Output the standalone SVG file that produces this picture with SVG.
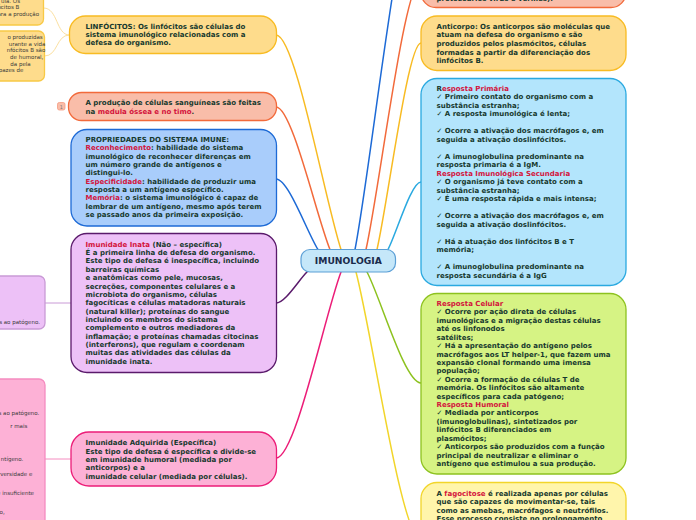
<svg xmlns="http://www.w3.org/2000/svg" width="696" height="520" viewBox="0 0 696 520">
<style>
.t{font-family:"DejaVu Sans",Verdana,sans-serif;font-weight:bold;font-size:7px;fill:#17392e}
.r{fill:#d3143c}
.s{font-family:"DejaVu Sans",Verdana,sans-serif;font-size:5.5px;fill:#3a3a3a;text-anchor:end}
.c{fill:none;stroke-width:1.5;stroke-linecap:round}
.nb{stroke-width:1.3}
</style>
<rect width="696" height="520" fill="#ffffff"/>
<g id="connectors">
<path class="c" stroke="#f8bb22" d="M276,35 C295.5,35 324.8,200.2 341,249.5"/>
<path class="c" stroke="#f26a3b" d="M276,107 C292.2,107 316.5,216.7 330,249.5"/>
<path class="c" stroke="#1d6ad6" d="M276,179 C288.6,179 307.5,233.3 318,249.5"/>
<path class="c" stroke="#5a1a6b" d="M276,303 C285.3,303 299.3,279.1 307,272"/>
<path class="c" stroke="#ec1d78" d="M276,458 C295.5,458 324.8,314.8 341,272"/>
<path class="c" stroke="#1d6ad6" d="M421,-120 C401.2,-120 371.5,164.5 355,249.5"/>
<path class="c" stroke="#f26a3b" d="M421,-20 C404.5,-20 379.8,187.5 366,249.5"/>
<path class="c" stroke="#f8bb22" d="M421,43 C407.8,43 388,202 377,249.5"/>
<path class="c" stroke="#2aa9e0" d="M421,182 C411.1,182 396.3,234 388,249.5"/>
<path class="c" stroke="#8dc21f" d="M421,383 C404.8,383 380.5,297.5 367,272"/>
<path class="c" stroke="#f2d52a" d="M421,540 C401.5,540 372.3,333.6 356,272"/>
<path fill="none" stroke="#fbe0a0" stroke-width="1" d="M43.5,8 C58,8 56,35 69.5,35"/>
<path fill="none" stroke="#fbe0a0" stroke-width="1" d="M44.5,56 C58,56 56,35 69.5,35"/>
<path fill="none" stroke="#c99ad6" stroke-width="1" d="M45,303 H71"/>
<path fill="none" stroke="#f58cc0" stroke-width="1" d="M45,459 H71"/>
</g>
<g id="center">
<rect x="301" y="249.5" width="94.5" height="22.5" rx="9" fill="#c5e7f9" stroke="#5b9fd6" stroke-width="1.2"/>
<text x="348.3" y="264.3" text-anchor="middle" style="font-family:'DejaVu Sans',Verdana,sans-serif;font-weight:bold;font-size:9.2px;fill:#1a2a4a">IMUNOLOGIA</text>
</g>
<g id="p-yellow1">
<rect class="nb" x="-20" y="-30" width="63.5" height="55" rx="6" fill="#fedc8c" stroke="#f8c945"/>
<text class="s" x="20" y="2.5">ula. Os</text>
<text class="s" x="19.3" y="9">linfócitos B</text>
<text class="s" x="39" y="16">ara a produção</text>
</g>
<g id="p-yellow2">
<rect class="nb" x="-20" y="31" width="64.5" height="50" rx="6" fill="#fedc8c" stroke="#f8c945"/>
<text class="s" x="42.7" y="39">o produzidas</text>
<text class="s" x="45.3" y="45.5">urante a vida</text>
<text class="s" x="45.3" y="52">nfócitos B são</text>
<text class="s" x="43.3" y="59">de humoral,</text>
<text class="s" x="30.7" y="65.5">da pela</text>
<text class="s" x="23.3" y="72">pazes de</text>
</g>
<g id="p-purple">
<rect class="nb" x="-20" y="276" width="65" height="53" rx="6" fill="#edc1f7" stroke="#c99ad6"/>
<text class="s" x="40" y="324.3">s ao patógeno.</text>
</g>
<g id="p-pink">
<rect class="nb" x="-20" y="379" width="65" height="160" rx="6" fill="#fdb1d6" stroke="#f58cc0"/>
<text class="s" x="39.3" y="415.3">s ao patógeno.</text>
<text class="s" x="27.3" y="428">r mais</text>
<text class="s" x="23.3" y="461.3">ntígeno.</text>
<text class="s" x="32.3" y="475.7">rversidade e</text>
<text class="s" x="34" y="494.7">e insuficiente</text>
<text class="s" x="4.7" y="514.3">o,</text>
</g>
<g id="n-linfocitos">
<rect class="nb" x="69.5" y="16" width="207" height="37.5" rx="16" fill="#fedc8c" stroke="#f8bb22"/>
<text class="t" x="85.5" y="28.7">LINFÓCITOS: Os linfócitos são células do<tspan x="85.5" dy="8.35">sistema imunológico relacionadas com a</tspan><tspan x="85.5" dy="8.35">defesa do organismo.</tspan></text>
</g>
<g id="n-producao">
<rect x="57.5" y="102.5" width="7.5" height="7.5" rx="1.8" fill="#f9bda9" stroke="#f59a80" stroke-width="0.8"/>
<text x="61.25" y="108.5" text-anchor="middle" style="font-family:'DejaVu Sans',sans-serif;font-size:5px;fill:#777">1</text>
<rect class="nb" x="68.5" y="92.5" width="208" height="28" rx="13" fill="#f9bda9" stroke="#f26a3b"/>
<text class="t" x="85.5" y="105.4">A produção de células sanguíneas são feitas<tspan x="85.5" dy="8.35">na </tspan><tspan class="r">medula óssea e no timo</tspan>.</text>
</g>
<g id="n-propriedades">
<rect class="nb" x="71" y="129.5" width="205.5" height="96.5" rx="16" fill="#a9cdfb" stroke="#1d6ad6"/>
<text class="t" x="85.5" y="142">PROPRIEDADES DO SISTEMA IMUNE:<tspan x="85.5" dy="8.33" class="r">Reconhecimento</tspan>: habilidade do sistema<tspan x="85.5" dy="8.33">imunológico de reconhecer diferenças em</tspan><tspan x="85.5" dy="8.33">um número grande de antígenos e</tspan><tspan x="85.5" dy="8.33">distingui-lo.</tspan><tspan x="85.5" dy="8.33" class="r">Especificidade</tspan>: habilidade de produzir uma<tspan x="85.5" dy="8.33">resposta a um antígeno específico.</tspan><tspan x="85.5" dy="8.33" class="r">Memória</tspan>: o sistema imunológico é capaz de<tspan x="85.5" dy="8.33">lembrar de um antígeno, mesmo após terem</tspan><tspan x="85.5" dy="8.33">se passado anos da primeira exposição.</tspan></text>
</g>
<g id="n-inata">
<rect class="nb" x="71" y="233.5" width="205.5" height="139" rx="16" fill="#edc1f7" stroke="#5a1a6b"/>
<text class="t" x="85.5" y="246.7"><tspan class="r">Imunidade Inata</tspan> (Não – específica)<tspan x="85.5" dy="8.36">É a primeira linha de defesa do organismo.</tspan><tspan x="85.5" dy="8.36">Este tipo de defesa é inespecífica, incluindo</tspan><tspan x="85.5" dy="8.36">barreiras químicas</tspan><tspan x="85.5" dy="8.36">e anatômicas como pele, mucosas,</tspan><tspan x="85.5" dy="8.36">secreções, componentes celulares e a</tspan><tspan x="85.5" dy="8.36">microbiota do organismo, células</tspan><tspan x="85.5" dy="8.36">fagocíticas e células matadoras naturais</tspan><tspan x="85.5" dy="8.36">(natural killer); proteínas do sangue</tspan><tspan x="85.5" dy="8.36">incluindo os membros do sistema</tspan><tspan x="85.5" dy="8.36">complemento e outros mediadores da</tspan><tspan x="85.5" dy="8.36">inflamação; e proteínas chamadas citocinas</tspan><tspan x="85.5" dy="8.36">(interferons), que regulam e coordenam</tspan><tspan x="85.5" dy="8.36">muitas das atividades das células da</tspan><tspan x="85.5" dy="8.36">imunidade inata.</tspan></text>
</g>
<g id="n-adquirida">
<rect class="nb" x="71" y="432" width="205.5" height="54" rx="18" fill="#fdb1d6" stroke="#ec1d78"/>
<text class="t" x="85.5" y="445.4">Imunidade Adquirida (Específica)<tspan x="85.5" dy="8.33">Este tipo de defesa é específica e divide-se</tspan><tspan x="85.5" dy="8.33">em imunidade humoral (mediada por</tspan><tspan x="85.5" dy="8.33">anticorpos) e a</tspan><tspan x="85.5" dy="8.33">imunidade celular (mediada por células).</tspan></text>
</g>
<g id="n-top">
<rect class="nb" x="421" y="-50" width="205" height="57.5" rx="15" fill="#f9bda9" stroke="#f26a3b"/>
<text class="t" x="436.5" y="1">protozoários vírus e vermes).</text>
</g>
<g id="n-anticorpo">
<rect class="nb" x="421" y="16" width="205" height="54.5" rx="16" fill="#fedc8c" stroke="#f8bb22"/>
<text class="t" x="436.5" y="28.7">Anticorpo: Os anticorpos são moléculas que<tspan x="436.5" dy="8.6">atuam na defesa do organismo e são</tspan><tspan x="436.5" dy="8.6">produzidos pelos plasmócitos, células</tspan><tspan x="436.5" dy="8.6">formadas a partir da diferenciação dos</tspan><tspan x="436.5" dy="8.6">linfócitos B.</tspan></text>
</g>
<g id="n-primaria">
<rect class="nb" x="421" y="78.5" width="205" height="207" rx="16" fill="#b3e5fc" stroke="#2aa9e0"/>
<text class="t" x="436.5" y="91">R<tspan class="r">esposta Primária</tspan><tspan x="436.5" dy="8.49">✓ Primeiro contato do organismo com a</tspan><tspan x="436.5" dy="8.49">substância estranha;</tspan><tspan x="436.5" dy="8.49">✓ A resposta imunológica é lenta;</tspan><tspan x="436.5" dy="16.98">✓ Ocorre a ativação dos macrófagos e, em</tspan><tspan x="436.5" dy="8.49">seguida a ativação doslinfócitos.</tspan><tspan x="436.5" dy="16.98">✓ A imunoglobulina predominante na</tspan><tspan x="436.5" dy="8.49">resposta primaria é a IgM.</tspan><tspan x="436.5" dy="8.49" class="r">Resposta Imunológica Secundaria</tspan><tspan x="436.5" dy="8.49">✓ O organismo já teve contato com a</tspan><tspan x="436.5" dy="8.49">substância estranha;</tspan><tspan x="436.5" dy="8.49">✓ É uma resposta rápida e mais intensa;</tspan><tspan x="436.5" dy="16.98">✓ Ocorre a ativação dos macrófagos e, em</tspan><tspan x="436.5" dy="8.49">seguida a ativação doslinfócitos.</tspan><tspan x="436.5" dy="16.98">✓ Há a atuação dos linfócitos B e T</tspan><tspan x="436.5" dy="8.49">memória;</tspan><tspan x="436.5" dy="16.98">✓ A imunoglobulina predominante na</tspan><tspan x="436.5" dy="8.49">resposta secundária é a IgG</tspan></text>
</g>
<g id="n-celular">
<rect class="nb" x="421" y="293.5" width="205" height="180.5" rx="16" fill="#d6f384" stroke="#8dc21f"/>
<text class="t" x="436.5" y="306"><tspan class="r">Resposta Celular</tspan><tspan x="436.5" dy="8.42">✓ Ocorre por ação direta de células</tspan><tspan x="436.5" dy="8.42">imunológicas e a migração destas células</tspan><tspan x="436.5" dy="8.42">até os linfonodos</tspan><tspan x="436.5" dy="8.42">satélites;</tspan><tspan x="436.5" dy="8.42">✓ Há a apresentação do antígeno pelos</tspan><tspan x="436.5" dy="8.42">macrófagos aos LT helper-1, que fazem uma</tspan><tspan x="436.5" dy="8.42">expansão clonal formando uma imensa</tspan><tspan x="436.5" dy="8.42">população;</tspan><tspan x="436.5" dy="8.42">✓ Ocorre a formação de células T de</tspan><tspan x="436.5" dy="8.42">memória. Os linfócitos são altamente</tspan><tspan x="436.5" dy="8.42">específicos para cada patógeno;</tspan><tspan x="436.5" dy="8.42" class="r">Resposta Humoral</tspan><tspan x="436.5" dy="8.42">✓ Mediada por anticorpos</tspan><tspan x="436.5" dy="8.42">(imunoglobulinas), sintetizados por</tspan><tspan x="436.5" dy="8.42">linfócitos B diferenciados em</tspan><tspan x="436.5" dy="8.42">plasmócitos;</tspan><tspan x="436.5" dy="8.42">✓ Anticorpos são produzidos com a função</tspan><tspan x="436.5" dy="8.42">principal de neutralizar e eliminar o</tspan><tspan x="436.5" dy="8.42">antígeno que estimulou a sua produção.</tspan></text>
</g>
<g id="n-fagocitose">
<rect class="nb" x="421" y="482.5" width="205" height="120" rx="16" fill="#fff5ab" stroke="#f2d52a"/>
<text class="t" x="436.5" y="496">A <tspan class="r">fagocitose</tspan> é realizada apenas por células<tspan x="436.5" dy="8.33">que são capazes de movimentar-se, tais</tspan><tspan x="436.5" dy="8.33">como as amebas, macrófagos e neutrófilos.</tspan><tspan x="436.5" dy="8.33">Esse processo consiste no prolongamento</tspan></text>
</g>
</svg>
